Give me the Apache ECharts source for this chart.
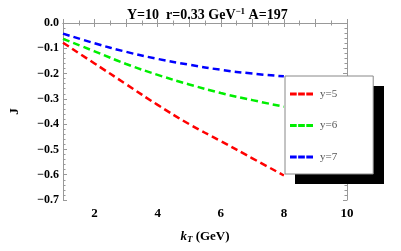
<!DOCTYPE html>
<html><head><meta charset="utf-8">
<script src="https://cdn.jsdelivr.net/npm/echarts@6/dist/echarts.min.js"></script>
<style>html,body{margin:0;padding:0;background:#fff}#c{width:401px;height:251px}</style>
</head><body><div id="c"></div>
<script>
const kT = [1, 2, 3, 4, 5, 6, 7, 8];
const y5 = [-0.078, -0.160, -0.242, -0.324, -0.400, -0.467, -0.535, -0.603];
const y6 = [-0.063, -0.112, -0.162, -0.205, -0.243, -0.277, -0.305, -0.331];
const y7 = [-0.042, -0.080, -0.114, -0.142, -0.165, -0.185, -0.200, -0.211];
const seriesNames = ['y=5', 'y=6', 'y=7'];
const seriesColors = ['#ff0000', '#00ee00', '#0000ff'];
const xTickLabels = [2, 4, 6, 8, 10];

const chart = echarts.init(document.getElementById('c'), null, {renderer: 'canvas'});
const serif = '"Liberation Serif", "DejaVu Serif", serif';
const frame = '#999999';
const dashIcon = 'path://M0,0h7v3h-7z M8.5,0h7v3h-7z M17,0h7v3h-7z';
const mk = (name, vals, color) => ({
  name, type: 'line', data: kT.map((k, i) => [k, vals[i]]),
  smooth: true, symbol: 'none', z: 2,
  lineStyle: {color, width: 2.5, type: [7, 4]}, itemStyle: {color}
});
const baseX = {
  type: 'value', min: 1, max: 10, interval: 1,
  axisLine: {show: true, lineStyle: {color: frame, width: 1}},
  axisTick: {show: true, inside: true, length: 4, lineStyle: {color: frame}},
  minorTick: {show: true, splitNumber: 2, length: 2.5, lineStyle: {color: frame}},
  splitLine: {show: false}, minorSplitLine: {show: false}
};
const baseY = {
  type: 'value', min: -0.7, max: 0, interval: 0.1,
  axisLine: {show: true, lineStyle: {color: frame, width: 1}},
  axisTick: {show: true, inside: true, length: 4, lineStyle: {color: frame}},
  minorTick: {show: true, splitNumber: 5, length: 2.5, lineStyle: {color: frame}},
  splitLine: {show: false}, minorSplitLine: {show: false}
};
chart.setOption({
  animation: false,
  backgroundColor: '#ffffff',
  title: {
    text: '{b|Y=10  r=0.33 GeV}{s|−1}{b| A=197}',
    left: 122, top: 2,
    textStyle: {rich: {
      b: {fontFamily: serif, fontWeight: 'bold', fontSize: 14, color: '#000'},
      s: {fontFamily: serif, fontWeight: 'bold', fontSize: 9, color: '#000', verticalAlign: 'top', padding: [0, 0, 7, 0]}
    }}
  },
  grid: {left: 60, right: 54, top: 23, bottom: 51, containLabel: false},
  xAxis: [
    Object.assign({}, baseX, {
      position: 'bottom',
      name: '{k|k}{t|T}{n| (GeV)}', nameLocation: 'middle', nameGap: 29,
      nameTextStyle: {rich: {
        k: {fontFamily: serif, fontWeight: 'bold', fontStyle: 'italic', fontSize: 13, color: '#000'},
        t: {fontFamily: serif, fontWeight: 'bold', fontStyle: 'italic', fontSize: 9, color: '#000', verticalAlign: 'bottom', padding: [6, 0, 0, 0]},
        n: {fontFamily: serif, fontWeight: 'bold', fontSize: 13, color: '#000'}
      }},
      axisLabel: {show: true, color: '#000', fontFamily: serif, fontWeight: 'bold', fontSize: 13, margin: 7,
        formatter: v => xTickLabels.includes(v) ? String(v) : ''}
    }),
    Object.assign({}, baseX, {position: 'top', axisLabel: {show: false}})
  ],
  yAxis: [
    Object.assign({}, baseY, {
      position: 'left',
      name: 'J', nameLocation: 'middle', nameGap: 42, nameRotate: 90,
      nameTextStyle: {fontFamily: serif, fontWeight: 'bold', fontSize: 13, color: '#000'},
      axisLabel: {show: true, color: '#000', fontFamily: serif, fontWeight: 'bold', fontSize: 12, margin: 4,
        formatter: v => (v === 0 ? '0.0' : ('−' + Math.abs(v).toFixed(1)))}
    }),
    Object.assign({}, baseY, {position: 'right', axisLabel: {show: false}})
  ],
  legend: {
    orient: 'vertical', left: 285, top: 76, z: 6,
    data: seriesNames.map(n => ({name: n, icon: dashIcon})),
    backgroundColor: '#ffffff', borderColor: '#888888', borderWidth: 1,
    padding: [11, 36, 10, 5],
    itemWidth: 23, itemHeight: 3, itemGap: 17.5,
    textStyle: {fontFamily: serif, fontSize: 11, color: '#555', lineHeight: 14, padding: [0, 0, 0, 2]}
  },
  graphic: [{
    type: 'rect', left: 295, top: 86, z: 5,
    shape: {width: 89, height: 98}, style: {fill: '#000'}
  }],
  series: [
    mk(seriesNames[0], y5, seriesColors[0]),
    mk(seriesNames[1], y6, seriesColors[1]),
    mk(seriesNames[2], y7, seriesColors[2])
  ]
});
</script></body></html>
